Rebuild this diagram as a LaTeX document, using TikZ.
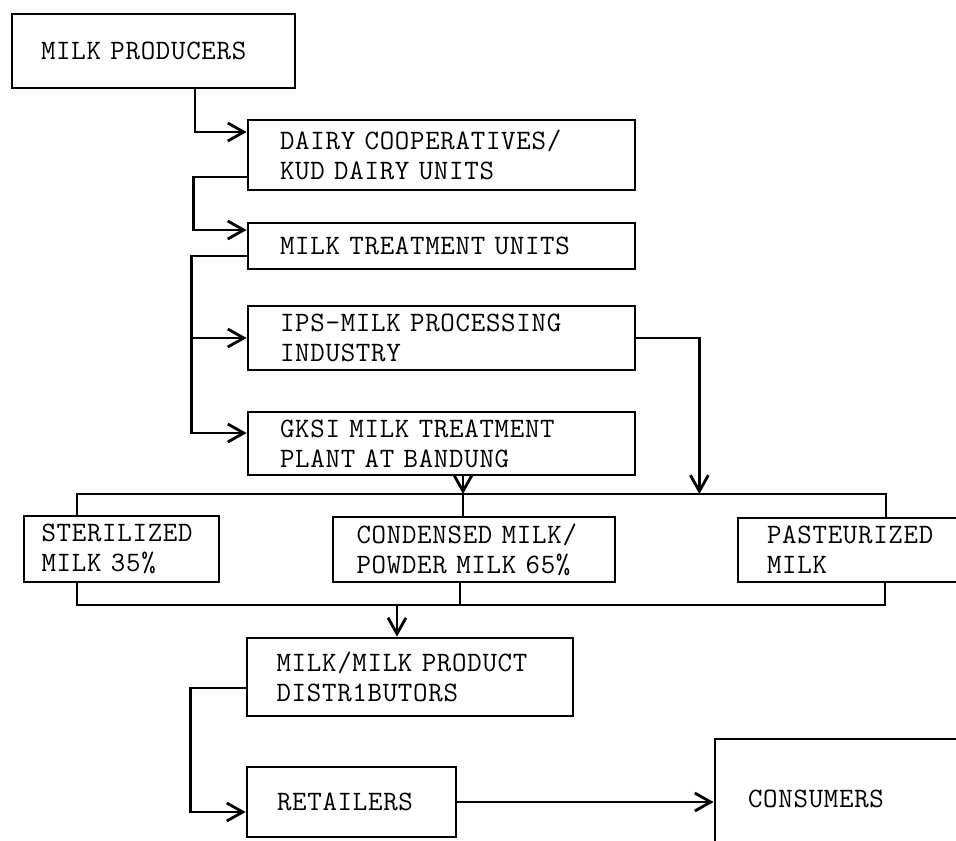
\documentclass[tikz,border=0pt]{standalone}
\usepackage{fontspec}
\setmonofont{Latin Modern Mono}[LetterSpace=2.5]
\usetikzlibrary{arrows.meta,calc}
\tikzset{
  box/.style={draw, line width=1.6pt, align=left, inner sep=0pt,
    font=\ttfamily\fontsize{16pt}{17pt}\selectfont},
  link/.style={line width=1.6pt},
  flow/.style={link, ->},
}

\begin{document}
\begin{tikzpicture}[x=0.02cm, y=-0.02cm, >={Straight Barb[length=3.2mm,width=3.6mm]}]
  \useasboundingbox (0,0) rectangle (956,840);
  % supply chain boxes
  \node[box, minimum width=5.66cm, minimum height=1.48cm, text width=4.5cm] (prod) at (153.5,51) {MILK~PRODUCERS};
  \node[box, minimum width=7.74cm, minimum height=1.4cm, text width=6.46cm] (dairy) at (441.5,155)
    {DAIRY~COOPERATIVES/\\KUD~DAIRY~UNITS};
  \node[box, minimum width=7.74cm, minimum height=0.92cm, text width=6.46cm] (mtu) at (441.5,246) {MILK~TREATMENT~UNITS};
  \node[box, minimum width=7.74cm, minimum height=1.28cm, text width=6.46cm] (ips) at (441.5,338)
    {IPS-MILK~PROCESSING\\INDUSTRY};
  \node[box, minimum width=7.74cm, minimum height=1.26cm, text width=6.46cm] (gksi) at (441.5,443.5)
    {GKSI~MILK~TREATMENT\\PLANT~AT~BANDUNG};
  % products
  \node[box, minimum width=3.9cm, minimum height=1.32cm, text width=3.2cm] (ster) at (121.5,549)
    {STERILIZED\\MILK~35\%};
  \node[box, minimum width=5.64cm, minimum height=1.3cm, text width=4.7cm] (cond) at (474,549.5)
    {CONDENSED~MILK/\\POWDER~MILK~65\%};
  \node[box, minimum width=5.24cm, minimum height=1.28cm, text width=4.08cm] (past) at (869,550)
    {PASTEURIZED\\MILK};
  % distribution
  \node[box, minimum width=6.52cm, minimum height=1.56cm, text width=5.34cm] (dist) at (410,677)
    {MILK/MILK~PRODUCT\\DISTR1BUTORS};
  \node[box, minimum width=4.18cm, minimum height=1.4cm, text width=2.98cm] (ret) at (351.5,802) {RETAILERS};
  \node[box, minimum width=5.7cm, minimum height=2.4cm, text width=4.38cm] (cons) at (857.5,799) {CONSUMERS};

  % bus lines
  \coordinate (topL) at (77,494);
  \coordinate (topR) at (886,494);
  \coordinate (botL) at (77,605);
  \coordinate (botR) at (885,605);

  \draw[flow] ([xshift=0.83cm]prod.south) |- ([yshift=0.46cm]dairy.west);
  \draw[flow] ([yshift=-0.44cm]dairy.west) -- ++(-53,0) |- ([yshift=0.32cm]mtu.west);
  \draw[flow] ([yshift=-0.2cm]mtu.west) -- ++(-55,0) coordinate (lbus) |- (ips.west);
  \draw[flow] (lbus) |- ([yshift=0.21cm]gksi.west);
  \draw[flow] (ips.east) -- ++(63,0) coordinate (ipsbend) -- (ipsbend |- topR);
  \draw[flow] ([xshift=0.43cm]gksi.south) -- ([xshift=0.43cm]gksi.south |- topL);
  \draw[link] ([xshift=0.43cm]gksi.south |- topL) -- ([xshift=0.43cm]gksi.south |- cond.north);
  \draw[link] (topL |- ster.north) -- (topL) -- (topR) -- (topR |- past.north);
  \draw[link] (botL |- ster.south) -- (botL) -- (botR) -- (botR |- past.south);
  \draw[link] ([xshift=-0.28cm]cond.south) -- ([xshift=-0.28cm]cond.south |- botL);
  \draw[flow] ([xshift=-0.26cm]dist.north |- botL) -- ([xshift=-0.26cm]dist.north);
  \draw[flow] ([yshift=-0.22cm]dist.west) -- ++(-55,0) |- ([yshift=-0.2cm]ret.west);
  \draw[flow] (ret.east) -- (ret.east -| cons.west);
\end{tikzpicture}
\end{document}
